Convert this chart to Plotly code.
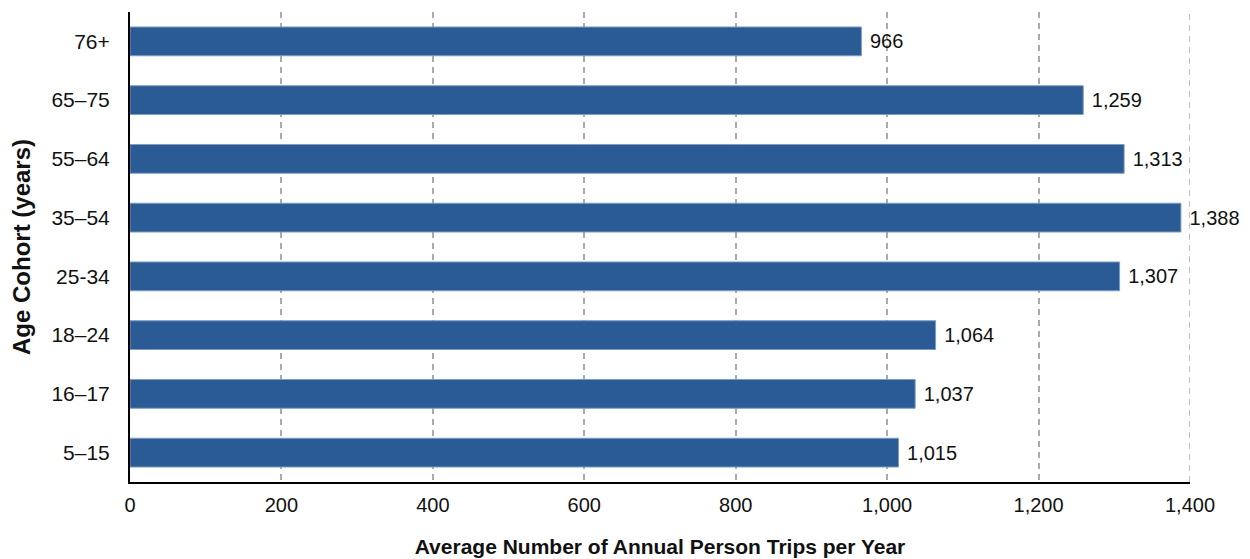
import plotly.graph_objects as go

categories = ["5–15", "16–17", "18–24", "25-34", "35–54", "55–64", "65–75", "76+"]
values = [1015, 1037, 1064, 1307, 1388, 1313, 1259, 966]
tick_vals = [0, 200, 400, 600, 800, 1000, 1200, 1400]
tick_text = ["0", "200", "400", "600", "800", "1,000", "1,200", "1,400"]

FONT = "Liberation Sans, Arial, sans-serif"
GRID = dict(color="#aaaaaa", width=1.5, dash="6px,5px")

fig = go.Figure(go.Bar(
    x=values, y=categories, orientation="h",
    marker=dict(color="#2a5b94", line=dict(color="#7e9dc4", width=1)),
    text=[f"{v:,}" for v in values], texttemplate="\u00a0%{text}",
    textposition="outside",
    textfont=dict(family=FONT, size=20, color="#111"),
    cliponaxis=False,
))

# dashed gridline at the right edge of the axis range (plotly hides edge gridlines)
fig.add_shape(type="line", xref="x", yref="paper",
              x0=tick_vals[-1], x1=tick_vals[-1], y0=0, y1=1,
              line=GRID, layer="below")

fig.update_layout(
    width=1250, height=559,
    margin=dict(l=122, r=68, t=4, b=85),
    plot_bgcolor="white", paper_bgcolor="white",
    bargap=0.51,
    showlegend=False,
    font=dict(family=FONT, size=20, color="#111"),
    xaxis=dict(
        range=[0, 1400], tickvals=tick_vals, ticktext=tick_text,
        showgrid=True, gridcolor=GRID["color"], gridwidth=GRID["width"], griddash=GRID["dash"],
        showline=True, linecolor="black", linewidth=2,
        zeroline=False, ticks="", ticklabelstandoff=4,
        tickfont=dict(size=20), automargin=False,
        title=dict(text="<b>Average Number of Annual Person Trips per Year</b>",
                   font=dict(size=21), standoff=24),
    ),
    yaxis=dict(
        showgrid=False, showline=True, linecolor="black", linewidth=2,
        ticks="", ticklabelstandoff=14, tickfont=dict(size=21), automargin=False,
        title=dict(text="<b>Age Cohort (years)</b>", font=dict(size=24), standoff=16),
    ),
)

fig.write_html("out.html")
